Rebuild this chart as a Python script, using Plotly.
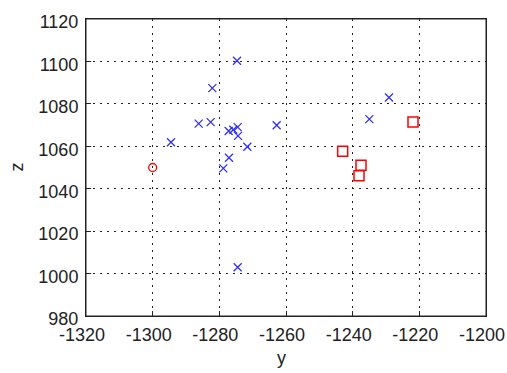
import plotly.graph_objects as go

# Blue crosses
blue_y = [-1274.7, -1282.1, -1286.2, -1282.6, -1294.5, -1277.2, -1275.8, -1274.5,
          -1274.4, -1271.6, -1277.1, -1278.8, -1262.8, -1274.5, -1235.0, -1229.1]
blue_z = [1100.3, 1087.4, 1070.7, 1071.4, 1061.9, 1067.2, 1067.8, 1069.0,
          1064.9, 1059.8, 1054.6, 1049.6, 1069.9, 1003.0, 1072.8, 1083.0]

# Red squares
sq_y = [-1243.0, -1237.5, -1238.1, -1221.9]
sq_z = [1057.7, 1051.1, 1046.1, 1071.4]

# Red circle
circ_y = [-1300.0]
circ_z = [1050.0]

x_ticks = [-1320, -1300, -1280, -1260, -1240, -1220, -1200]
y_ticks = [980, 1000, 1020, 1040, 1060, 1080, 1100, 1120]

FONT = dict(family="Liberation Sans, Arial", size=18, color="#222")

fig = go.Figure()
fig.add_trace(go.Scatter(x=blue_y, y=blue_z, mode="markers",
                         marker=dict(symbol="x-thin-open", size=8, color="#2a2aff",
                                     line=dict(width=1.2, color="#2a2aff"))))
fig.add_trace(go.Scatter(x=sq_y, y=sq_z, mode="markers",
                         marker=dict(symbol="square-open", size=10, color="red",
                                     line=dict(width=1.5, color="red"))))
fig.add_trace(go.Scatter(x=circ_y, y=circ_z, mode="markers",
                         marker=dict(symbol="circle-open", size=8, color="red",
                                     line=dict(width=1.3, color="red"))))

axis_common = dict(
    showline=True, linecolor="#222", linewidth=1, mirror=True,
    ticks="inside", ticklen=5, tickcolor="#222", tickwidth=1,
    showgrid=True, gridcolor="#222", gridwidth=1, griddash="1.5px,5.5px",
    zeroline=False, tickfont=FONT, automargin=False, ticklabeloverflow="allow",
)

fig.update_xaxes(range=[-1320, -1200], tickvals=x_ticks,
                 ticktext=[str(v) for v in x_ticks],
                 ticklabelstandoff=2, ticklabelshift=-4, **axis_common)
fig.update_yaxes(range=[980, 1120], tickvals=y_ticks,
                 ticktext=[str(v) for v in y_ticks],
                 ticklabelstandoff=3, ticklabelshift=3, **axis_common)

# frame
fig.add_shape(type="rect", xref="paper", yref="paper", x0=0, y0=0, x1=1, y1=1,
              line=dict(color="#222", width=1), layer="above")

# axis titles
fig.add_annotation(text="y", xref="paper", yref="paper", x=0.4875, y=-0.141,
                   xanchor="center", yanchor="middle", showarrow=False, font=FONT)
fig.add_annotation(text="z", xref="paper", yref="paper", x=-0.175, y=0.5,
                   xanchor="center", yanchor="middle", showarrow=False,
                   textangle=-90, font=FONT)

fig.update_layout(width=507, height=373, showlegend=False,
                  margin=dict(l=86, r=21, t=19, b=57),
                  paper_bgcolor="white", plot_bgcolor="white")

fig.write_html("out.html", config={"displayModeBar": False},
               post_script="document.body.style.margin='0';document.body.style.overflow='hidden';")
